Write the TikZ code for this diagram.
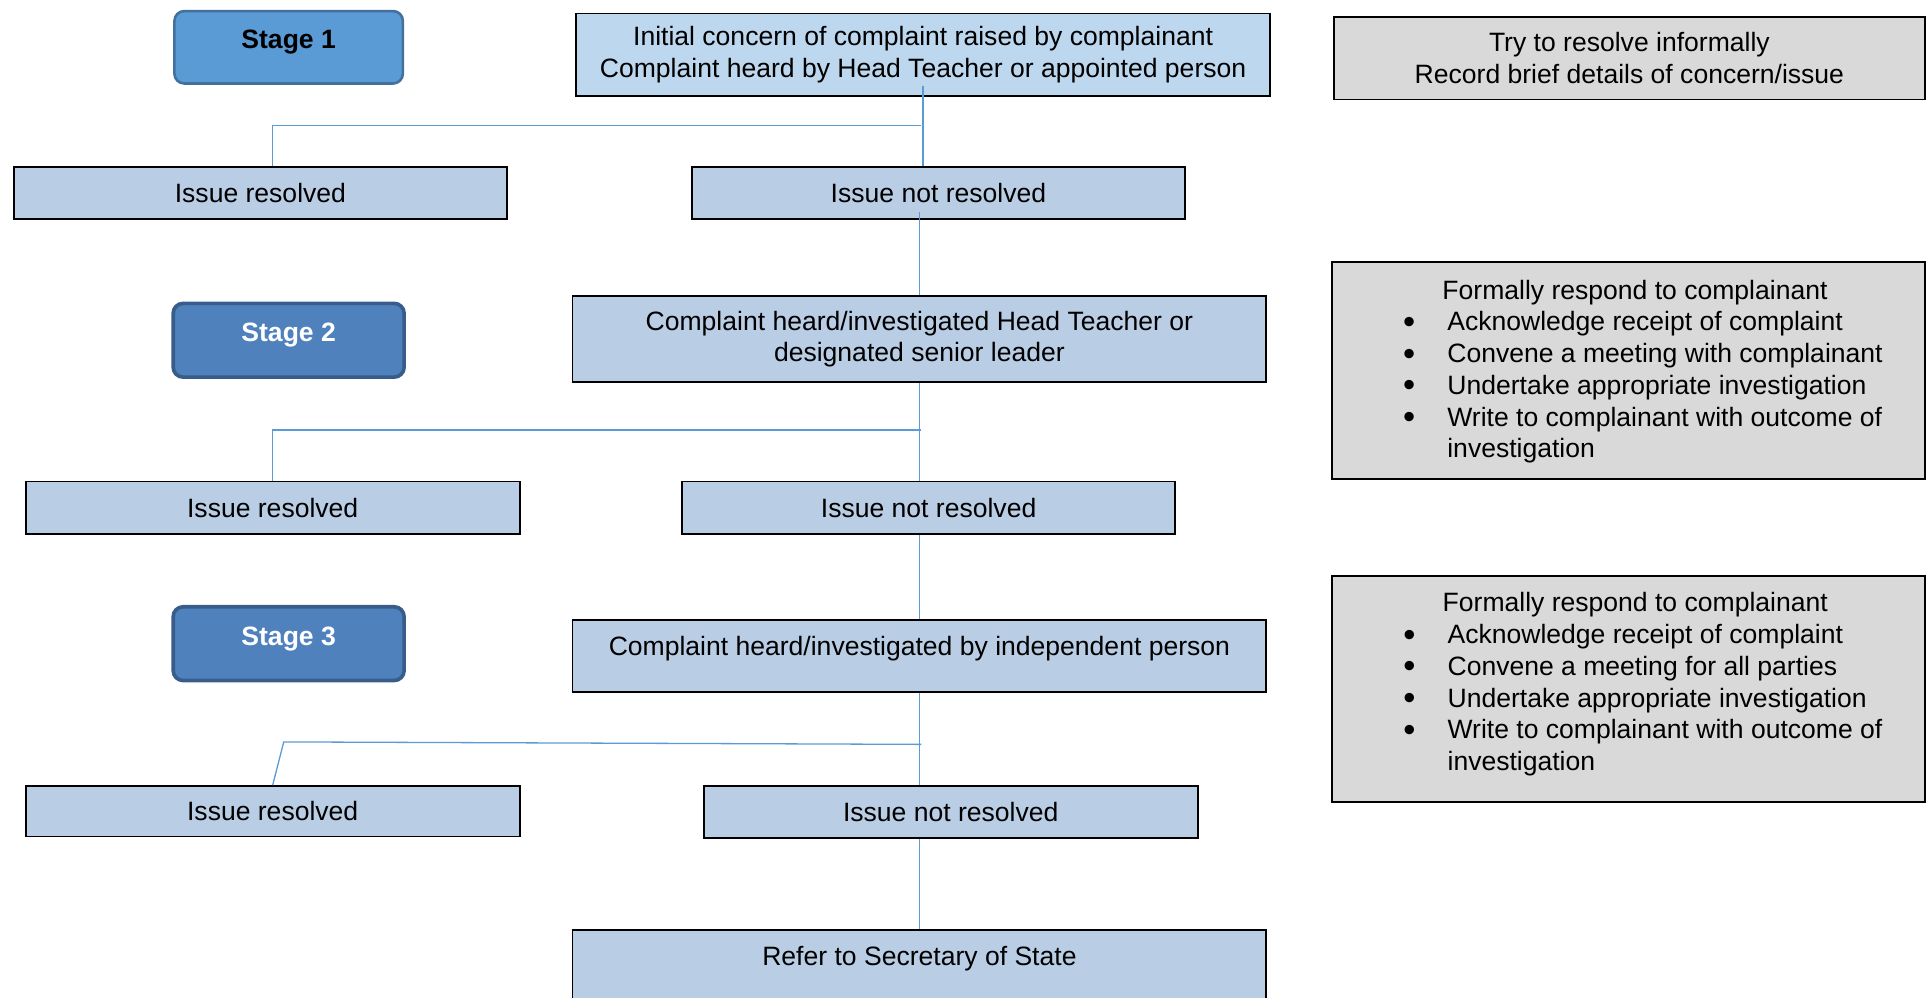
\documentclass[tikz,border=0pt]{standalone}
\usepackage{fontspec}
\setmainfont{Liberation Sans}

\definecolor{stageLight}{HTML}{5B9BD5}
\definecolor{stageLightEdge}{HTML}{41719C}
\definecolor{stageMid}{HTML}{4F81BD}
\definecolor{stageEdge}{HTML}{385D8A}
\definecolor{initBlue}{HTML}{BDD7EE}
\definecolor{boxBlue}{HTML}{B9CDE5}
\definecolor{noteGrey}{HTML}{D9D9D9}
\definecolor{linkBlue}{HTML}{5B9BD5}

\newcommand{\bigdot}{\raisebox{-0.04cm}{\fontsize{16}{14.7}\selectfont •}}

\begin{document}
\begin{tikzpicture}[x=0.02cm,y=-0.02cm,
		font=\fontsize{12.3}{14.7}\selectfont,
		box/.style={draw=black,line width=0.9pt,fill=boxBlue,rectangle,inner sep=0pt,align=center},
		issue/.style={box,minimum width=8.04cm,minimum height=0.84cm},
		stage/.style={draw=stageEdge,line width=1.7pt,fill=stageMid,rounded corners=0.16cm,inner sep=0pt,
			text=white,font=\fontsize{12.3}{14.7}\selectfont\bfseries,minimum width=3.76cm,minimum height=1.2cm,
			text height=0.3cm,text depth=0.25cm},
		upper/.style={text height=0.3cm,text depth=0.3cm},
		note/.style={box,fill=noteGrey,minimum width=9.66cm},
		link/.style={draw=linkBlue,line width=0.6pt}
		]
	\useasboundingbox (0,0) rectangle (1568,812);
	\clip (0,0) rectangle (1568,812);

	% Szakaszok
	% ----------------------
	\node[stage,fill=stageLight,draw=stageLightEdge,line width=1.2pt,text=black,minimum width=3.72cm,minimum height=1.18cm] (stageOne) at (235,38.5) {Stage 1};
	\node[stage] (stageTwo) at (235,277) {Stage 2};
	\node[stage] (stageThree) at (235,524) {Stage 3};

	% Folyamat elemei
	% ----------------------

		% 1. szakasz
		\node[box,fill=initBlue,minimum width=11.3cm,minimum height=1.34cm] (init) at (751.5,44.5) {Initial concern of complaint raised by complainant\\Complaint heard by Head Teacher or appointed person};
		\node[issue] (resOne) at (212,157) {Issue resolved};
		\node[issue] (notResOne) at (764,157) {Issue not resolved};

		% 2. szakasz
		\node[box,minimum width=11.3cm,minimum height=1.4cm] (heardTwo) at (748.5,276) {Complaint heard/investigated Head Teacher or\\designated senior leader};
		\node[issue,minimum height=0.86cm] (resTwo) at (222,413.5) {Issue resolved};
		\node[issue,minimum height=0.86cm] (notResTwo) at (756,413.5) {Issue not resolved};

		% 3. szakasz
		\node[box,upper,minimum width=11.3cm,minimum height=1.16cm] (heardThree) at (748.5,534) {Complaint heard/investigated by independent person};
		\node[issue,minimum height=0.82cm] (resThree) at (222,660.5) {Issue resolved};
		\node[issue] (notResThree) at (774,661) {Issue not resolved};

		% Miniszter
		\node[box,upper,minimum width=11.3cm,minimum height=1.16cm] (secState) at (748.5,786) {Refer to Secretary of State};

	% Teendok
	% ----------------------
	\node[note,minimum width=9.62cm,minimum height=1.34cm] (informal) at (1326.5,47.5) {Try to resolve informally\\Record brief details of concern/issue};

	\node[note,minimum height=3.54cm] (formalTwo) at (1325.5,301.5) {\hspace*{0.48cm}\raisebox{-0.03cm}[\height][\depth]{\begin{tabular}{@{}p{0.72cm}@{}l@{}}
		& \hspace*{-0.08cm}Formally respond to complainant\\
		\bigdot & Acknowledge receipt of complaint\\
		\bigdot & Convene a meeting with complainant\\
		\bigdot & Undertake appropriate investigation\\
		\bigdot & Write to complainant with outcome of\\
		& investigation
	\end{tabular}}};

	\node[note,minimum height=3.68cm] (formalThree) at (1325.5,561) {\hspace*{0.48cm}\raisebox{0.07cm}[\height][\depth]{\begin{tabular}{@{}p{0.72cm}@{}l@{}}
		& \hspace*{-0.08cm}Formally respond to complainant\\
		\bigdot & Acknowledge receipt of complaint\\
		\bigdot & Convene a meeting for all parties\\
		\bigdot & Undertake appropriate investigation\\
		\bigdot & Write to complainant with outcome of\\
		& investigation
	\end{tabular}}};

	% Osszekotesek
	% ----------------------
	\coordinate (jOne) at (750,102);
	\coordinate (jTwo) at (750,350);
	\coordinate (jThree) at (750,606);
	\coordinate (bendThree) at (231,604);

	\draw[link] ([yshift=0.18cm]init.south) -- (init.south |- notResOne.north);
	\draw[link] (jOne) -| ([xshift=0.2cm]resOne.north);
	\draw[link] ([yshift=0.12cm]notResOne.south -| heardTwo.north) -- (heardTwo.north);

	\draw[link] (heardTwo.south) -- (heardTwo.south |- notResTwo.north);
	\draw[link] (jTwo) -| (resTwo.north);
	\draw[link] (notResTwo.south -| heardThree.north) -- (heardThree.north);

	\draw[link] (heardThree.south) -- (heardThree.south |- notResThree.north);
	\draw[link] (jThree) -- (bendThree) -- (resThree.north);
	\draw[link] (notResThree.south -| secState.north) -- (secState.north);

\end{tikzpicture}
\end{document}
